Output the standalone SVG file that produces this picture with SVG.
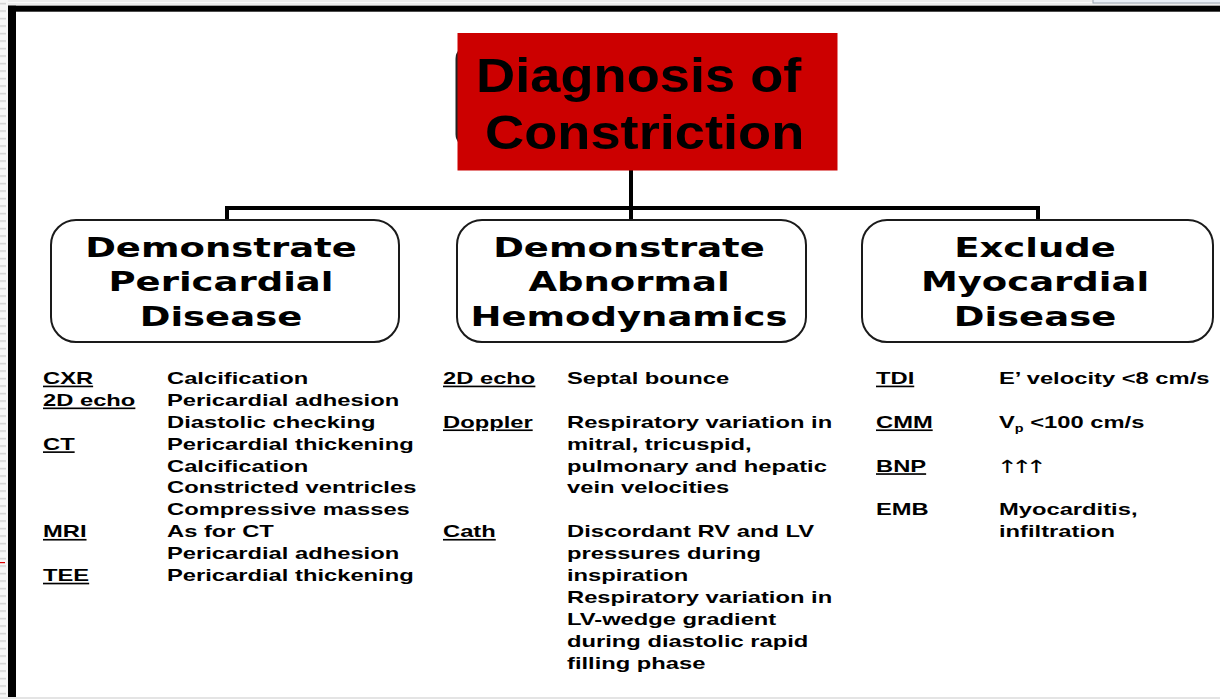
<svg xmlns="http://www.w3.org/2000/svg" width="1220" height="699" viewBox="0 0 1220 699">
<defs>
<pattern id="stripes" x="0" y="0" width="8" height="7.5" patternUnits="userSpaceOnUse">
<rect width="8" height="7.5" fill="#f7f7f7"/>
<rect x="0" y="3" width="6" height="1.2" fill="#c8c8c8"/>
</pattern>
</defs>
<style>
.t{font-family:"Liberation Sans",Arial,sans-serif;font-weight:bold;font-size:48px;fill:#000}
.h{font-family:"DejaVu Sans",Verdana,sans-serif;font-weight:bold;font-size:27px;fill:#000;text-anchor:middle}
.b{font-family:"Liberation Sans",Arial,"DejaVu Sans",sans-serif;font-weight:bold;font-size:16.5px;fill:#000}
.u{text-decoration:underline}
.ar{font-family:"DejaVu Sans",sans-serif;font-weight:normal;font-size:18px;letter-spacing:-5px;fill:#000}
.box{fill:#fff;stroke:#1a1a1a;stroke-width:2}
.con{stroke:#000;stroke-width:4;fill:none}
</style>
<rect width="1220" height="699" fill="#fff"/>
<!-- screenshot frame -->
<rect x="0" y="0" width="1220" height="6" fill="#ececec"/>
<rect x="0" y="2" width="1220" height="1" fill="#fafafa"/>
<rect x="1093" y="-1" width="130" height="4" fill="#e8eef6" stroke="#9aa4b0" stroke-width="1"/>
<rect x="0" y="0" width="8" height="699" fill="url(#stripes)"/>
<rect x="0" y="562" width="5" height="1.2" fill="#d00"/>
<rect x="8" y="5.7" width="1212" height="6" fill="#000"/>
<rect x="8" y="5.7" width="8" height="691.5" fill="#000"/>
<rect x="0" y="697" width="1220" height="2" fill="#e4e4e4"/>

<g id="connectors">
<path class="con" d="M631,170 V221"/>
<path class="con" d="M225,208 H1040"/>
<path class="con" d="M227,206 V221"/>
<path class="con" d="M1038,206 V221"/>
</g>

<g id="title">
<rect x="455.5" y="45" width="360" height="103" rx="14" fill="#222"/>
<rect x="457.5" y="33" width="380" height="137.5" fill="#cc0000"/>
<text class="t" transform="translate(476,92) scale(1.13,1)">Diagnosis of</text>
<text class="t" transform="translate(485,149) scale(1.13,1)">Constriction</text>
</g>

<g id="node-pericardial">
<rect class="box" x="51" y="220" width="348" height="122" rx="25"/>
<g transform="translate(221,0) scale(1.37,1)">
<text class="h" x="0" y="257">Demonstrate</text>
<text class="h" x="0" y="291.5">Pericardial</text>
<text class="h" x="0" y="326">Disease</text>
</g>
</g>

<g id="node-hemodynamics">
<rect class="box" x="457" y="220" width="349" height="122" rx="25"/>
<g transform="translate(629,0) scale(1.37,1)">
<text class="h" x="0" y="257">Demonstrate</text>
<text class="h" x="0" y="291.5">Abnormal</text>
<text class="h" x="0" y="326">Hemodynamics</text>
</g>
</g>

<g id="node-myocardial">
<rect class="box" x="862" y="220" width="351" height="122" rx="25"/>
<g transform="translate(1035,0) scale(1.37,1)">
<text class="h" x="0" y="257">Exclude</text>
<text class="h" x="0" y="291.5">Myocardial</text>
<text class="h" x="0" y="326">Disease</text>
</g>
</g>

<g id="details-pericardial" transform="translate(43,0) scale(1.44,1)">
<text class="b u" x="0" y="384">CXR</text>
<text class="b" x="86.1" y="384">Calcification</text>
<text class="b u" x="0" y="405.9">2D echo</text>
<text class="b" x="86.1" y="405.9">Pericardial adhesion</text>
<text class="b" x="86.1" y="427.8">Diastolic checking</text>
<text class="b u" x="0" y="449.7">CT</text>
<text class="b" x="86.1" y="449.7">Pericardial thickening</text>
<text class="b" x="86.1" y="471.6">Calcification</text>
<text class="b" x="86.1" y="493.5">Constricted ventricles</text>
<text class="b" x="86.1" y="515.4">Compressive masses</text>
<text class="b u" x="0" y="537.3">MRI</text>
<text class="b" x="86.1" y="537.3">As for CT</text>
<text class="b" x="86.1" y="559.2">Pericardial adhesion</text>
<text class="b u" x="0" y="581.1">TEE</text>
<text class="b" x="86.1" y="581.1">Pericardial thickening</text>
</g>

<g id="details-hemodynamics" transform="translate(443,0) scale(1.44,1)">
<text class="b u" x="0" y="384">2D echo</text>
<text class="b" x="86.1" y="384">Septal bounce</text>
<text class="b u" x="0" y="427.8">Doppler</text>
<text class="b" x="86.1" y="427.8">Respiratory variation in</text>
<text class="b" x="86.1" y="449.7">mitral, tricuspid,</text>
<text class="b" x="86.1" y="471.6">pulmonary and hepatic</text>
<text class="b" x="86.1" y="493.5">vein velocities</text>
<text class="b u" x="0" y="537.3">Cath</text>
<text class="b" x="86.1" y="537.3">Discordant RV and LV</text>
<text class="b" x="86.1" y="559.2">pressures during</text>
<text class="b" x="86.1" y="581.1">inspiration</text>
<text class="b" x="86.1" y="603">Respiratory variation in</text>
<text class="b" x="86.1" y="624.9">LV-wedge gradient</text>
<text class="b" x="86.1" y="646.8">during diastolic rapid</text>
<text class="b" x="86.1" y="668.7">filling phase</text>
</g>

<g id="details-myocardial" transform="translate(876,0) scale(1.44,1)">
<text class="b u" x="0" y="384">TDI</text>
<text class="b" x="85.4" y="384">E’ velocity &lt;8 cm/s</text>
<text class="b u" x="0" y="427.8">CMM</text>
<text class="b" x="85.4" y="427.8">V<tspan font-size="10" dy="4">p</tspan><tspan dy="-4"> &lt;100 cm/s</tspan></text>
<text class="b u" x="0" y="471.6">BNP</text>
<text class="ar" x="83.5" y="472.6">↑↑↑</text>
<text class="b" x="0" y="515.4">EMB</text>
<text class="b" x="85.4" y="515.4">Myocarditis,</text>
<text class="b" x="85.4" y="537.3">infiltration</text>
</g>
</svg>
